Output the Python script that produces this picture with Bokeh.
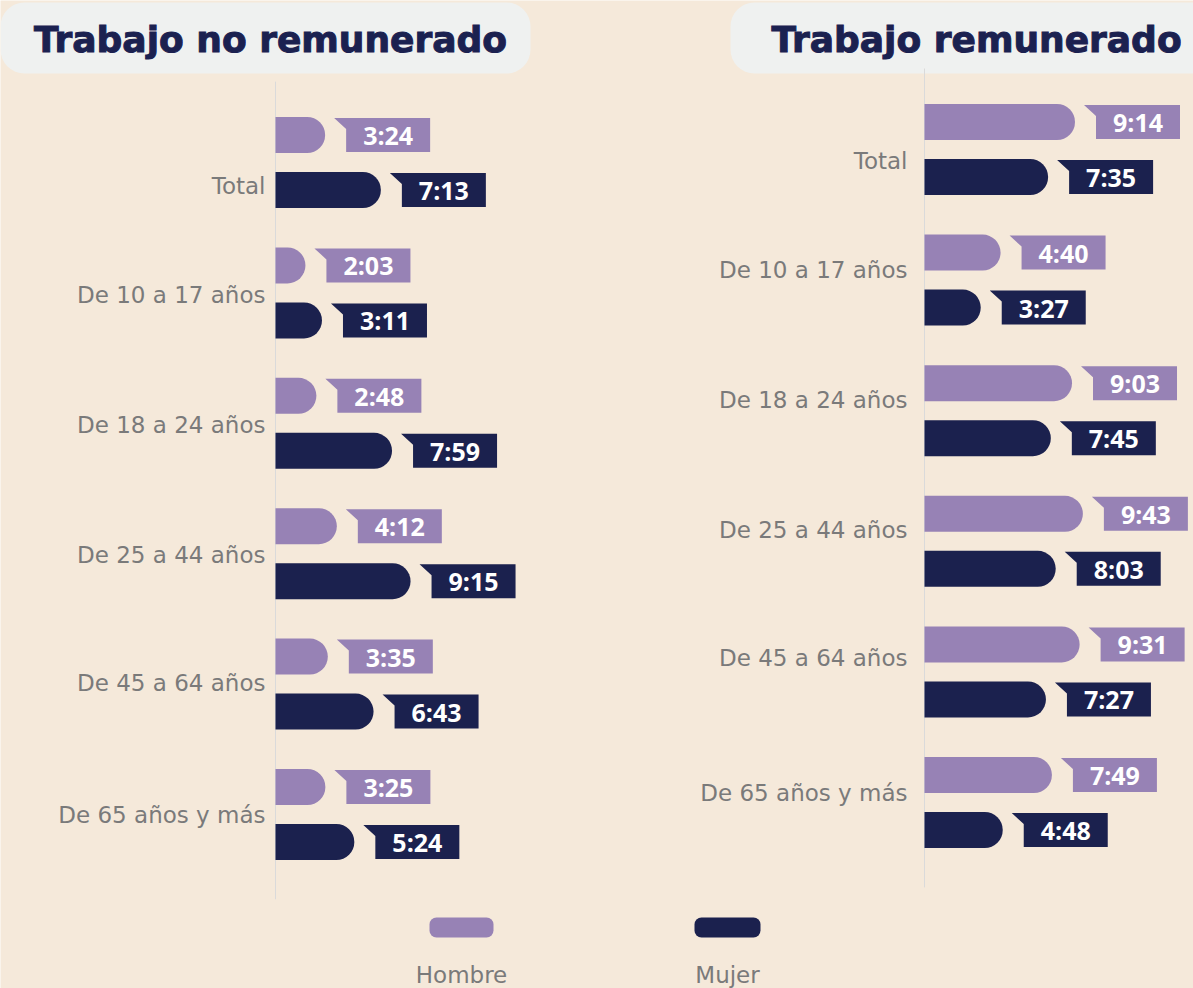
from bokeh.plotting import figure
from bokeh.models import Range1d, ColumnDataSource
from bokeh.embed import file_html
from bokeh.resources import INLINE
from bokeh.core.properties import value

# ---------------- data ----------------
categories = ["Total", "De 10 a 17 años", "De 18 a 24 años",
              "De 25 a 44 años", "De 45 a 64 años", "De 65 años y más"]
series = ["Hombre", "Mujer"]
no_rem_hombre = ["3:24", "2:03", "2:48", "4:12", "3:35", "3:25"]
no_rem_mujer = ["7:13", "3:11", "7:59", "9:15", "6:43", "5:24"]
rem_hombre = ["9:14", "4:40", "9:03", "9:43", "9:31", "7:49"]
rem_mujer = ["7:35", "3:27", "7:45", "8:03", "7:27", "4:48"]
titles = ["Trabajo no remunerado", "Trabajo remunerado"]

# ---------------- style ----------------
BG = "#F5E9DA"
BOX = "#EFF1F0"
C_H = "#9782B5"
C_M = "#1B214E"
TITLE_C = "#1B2150"
LABEL_C = "#7A7A7A"
AXIS_C = "#DADADA"
W, H = 1193, 988


def hours(s):
    h, m = s.split(":")
    return int(h) + int(m) / 60.0


# panel geometry (pixels within figure)
panels = [
    dict(name="default", axis_px=275, sx=14.6, c0=162, step=130.4,
         lab_gap=10, nudges=[23, 2, 2, 1, -1, 0],
         h=no_rem_hombre, m=no_rem_mujer),
    dict(name="r", axis_px=924, sx=16.3, c0=149, step=130.6,
         lab_gap=17, nudges=[11, -10, -11, -11, -14, -10],
         h=rem_hombre, m=rem_mujer),
]

for pn in panels:
    pn["xr"] = Range1d(-pn["axis_px"] / pn["sx"], (W - pn["axis_px"]) / pn["sx"])
    pn["yr"] = Range1d((H - pn["c0"]) / pn["step"], -pn["c0"] / pn["step"])

p = figure(width=W, height=H, output_backend="svg", toolbar_location=None,
           x_range=panels[0]["xr"], y_range=panels[0]["yr"],
           x_axis_type=None, y_axis_type=None, min_border=0,
           background_fill_color=BG, border_fill_color=BG,
           outline_line_color=None)
p.grid.visible = False
p.extra_x_ranges = {"r": panels[1]["xr"]}
p.extra_y_ranges = {"r": panels[1]["yr"]}

L = panels[0]


def lx(px):  # figure px -> left-panel x data
    return (px - L["axis_px"]) / L["sx"]


def ly(py):  # figure px -> left-panel y data
    return (py - L["c0"]) / L["step"]


# title boxes
p.quad(left=[lx(0), lx(730)], right=[lx(530), lx(1240)],
       top=[ly(2), ly(2)], bottom=[ly(73), ly(73)],
       fill_color=BOX, line_color=None, border_radius=24)
p.text(x=[lx(270), lx(976)], y=[ly(39), ly(39)], text=titles,
       text_font=value("DejaVu Sans"), text_font_style="bold", text_font_size="36px",
       text_color=TITLE_C, text_align="center", text_baseline="middle",
       text_outline_color=TITLE_C)

BAR_H_PX = 36
OFFSET_PX = 27.5

for pn in panels:
    kw = {}
    if pn["name"] != "default":
        kw = dict(x_range_name="r", y_range_name="r")
    sx, step = pn["sx"], pn["step"]
    # axis line
    p.segment(x0=[0], x1=[0], y0=[-0.62], y1=[5.65], line_color=AXIS_C, line_width=1, **kw)
    # category labels
    ys = [i + n / step for i, n in enumerate(pn["nudges"])]
    p.text(x=[-pn["lab_gap"] / sx] * len(categories), y=ys, text=categories,
           text_font=value("DejaVu Sans"), text_font_size="23px", text_color=LABEL_C,
           text_align="right", text_baseline="middle", **kw)
    for vals, sign, col in ((pn["h"], -1, C_H), (pn["m"], 1, C_M)):
        v = [hours(s) for s in vals]
        yc = [i + sign * OFFSET_PX / step for i in range(len(v))]
        src = ColumnDataSource(dict(y=yc, right=v, label=vals))
        p.hbar(y="y", left=0, right="right", height=BAR_H_PX / step, source=src,
               fill_color=col, line_color=None, border_radius=[0, 18, 18, 0], **kw)
        xs, ysl, tx = [], [], []
        for vi, yi in zip(v, yc):
            end = vi * sx
            n0 = end + 9
            r0 = n0 + 12
            r1 = r0 + 84
            top = yi - 17 / step
            bot = yi + 17 / step
            ny = top + 11 / step
            xs.append([n0 / sx, r1 / sx, r1 / sx, r0 / sx, r0 / sx])
            ysl.append([top, top, bot, bot, ny])
            tx.append((r0 + r1) / 2 / sx)
        p.patches(xs=xs, ys=ysl, fill_color=col, line_color=None, **kw)
        p.text(x=tx, y=yc, text=vals, text_font=value("Open Sans"),
               text_font_style="bold", text_font_size="25px", text_color="white",
               text_align="center", text_baseline="middle", **kw)

# legend
sw_l = [429, 694]
sw_r = [493, 760]
p.quad(left=[lx(a) for a in sw_l], right=[lx(b) for b in sw_r],
       top=[ly(917)] * 2, bottom=[ly(937)] * 2,
       fill_color=[C_H, C_M], line_color=None, border_radius=7)
p.text(x=[lx(461), lx(727)], y=[ly(961)] * 2, text=series,
       text_font=value("DejaVu Sans"), text_font_size="23px", text_color=LABEL_C,
       text_align="center", text_baseline="top")

open("out.html", "w").write(file_html(p, INLINE))
